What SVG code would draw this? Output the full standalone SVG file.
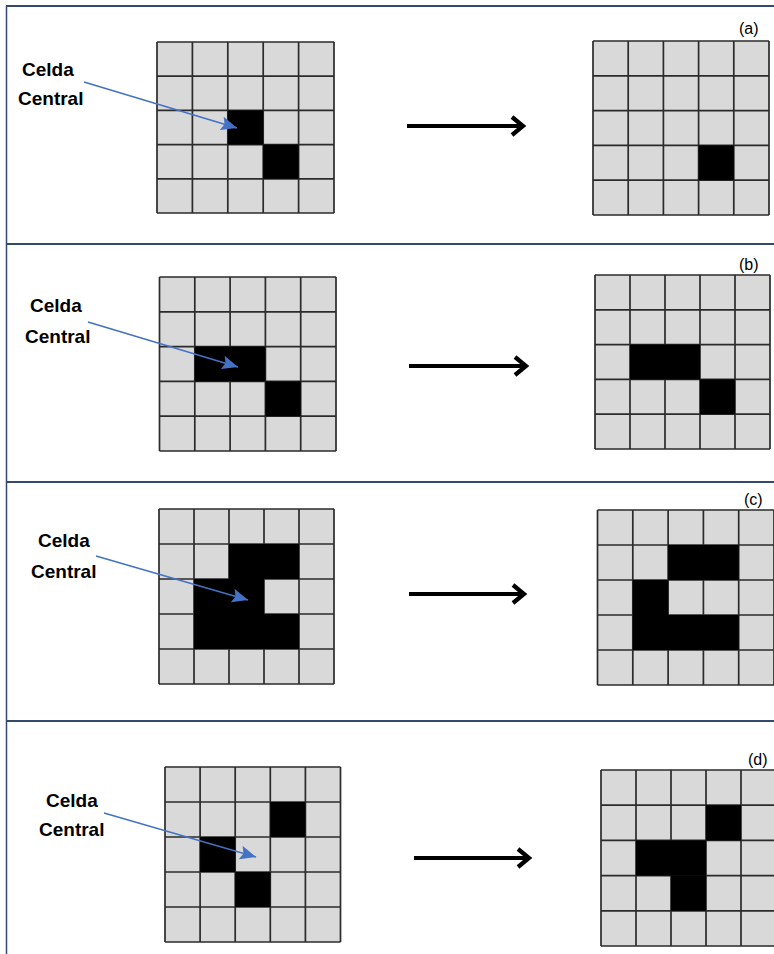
<svg xmlns="http://www.w3.org/2000/svg" width="774" height="954" viewBox="0 0 774 954">
<style>
.bg{fill:#d9d9d9}
.blk{fill:#000}
.gl{fill:none;stroke:#2b2b2b;stroke-width:1.7}
.lbl{font-family:"Liberation Sans",Arial,sans-serif;font-weight:bold;font-size:19px;fill:#000}
.tag{font-family:"Liberation Sans",Arial,sans-serif;font-size:16px;fill:#000}
.sep{stroke:#34496b;stroke-width:2.2;fill:none}
.blue{stroke:#4472c4;stroke-width:1.6;fill:none;marker-end:url(#bh)}
.arr{stroke:#000;stroke-width:4.2;fill:none}
.arrh{stroke:#000;stroke-width:4.2;fill:none;stroke-linejoin:miter;stroke-linecap:butt}
</style>
<defs>
<marker id="bh" markerUnits="userSpaceOnUse" markerWidth="18" markerHeight="14" refX="16" refY="7" orient="auto">
<path d="M0 0 L16 7 L0 14 L3 7 Z" fill="#4472c4"/>
</marker>
</defs>
<rect width="774" height="954" fill="#fff"/>
<g id="frame">
<path class="sep" d="M6 6 H774 M6 244 H774 M6 482 H774 M6 721 H774"/>
<path d="M6.5 6 V954" stroke="#34496b" stroke-width="1.5" fill="none"/>
</g>

<g id="panel-a">
<g id="grid-a-in">
<rect class="bg" x="157" y="42" width="177" height="171"/>
<path class="gl" d="M157 42V213M192.4 42V213M227.8 42V213M263.2 42V213M298.6 42V213M334 42V213M157 42H334M157 76.2H334M157 110.4H334M157 144.6H334M157 178.8H334M157 213H334"/>
<rect class="blk" x="227.8" y="110.4" width="35.4" height="34.2"/>
<rect class="blk" x="263.2" y="144.6" width="35.4" height="34.2"/>
</g>
<g id="grid-a-out">
<rect class="bg" x="593" y="41" width="176" height="174"/>
<path class="gl" d="M593 41V215M628.2 41V215M663.4 41V215M698.6 41V215M733.8 41V215M769 41V215M593 41H769M593 75.8H769M593 110.6H769M593 145.4H769M593 180.2H769M593 215H769"/>
<rect class="blk" x="698.6" y="145.4" width="35.2" height="34.8"/>
</g>
<g id="label-a"><text class="lbl" x="22" y="76">Celda</text><text class="lbl" x="18" y="105">Central</text></g>
<text class="tag" x="739" y="34">(a)</text>
</g>

<g id="panel-b">
<g id="grid-b-in">
<rect class="bg" x="159.5" y="277" width="176.5" height="174"/>
<path class="gl" d="M159.5 277V451M194.8 277V451M230.1 277V451M265.4 277V451M300.7 277V451M336 277V451M159.5 277H336M159.5 311.8H336M159.5 346.6H336M159.5 381.4H336M159.5 416.2H336M159.5 451H336"/>
<rect class="blk" x="194.8" y="346.6" width="70.6" height="34.8"/>
<rect class="blk" x="265.4" y="381.4" width="35.3" height="34.8"/>
</g>
<g id="grid-b-out">
<rect class="bg" x="595" y="275" width="175" height="174"/>
<path class="gl" d="M595 275V449M630 275V449M665 275V449M700 275V449M735 275V449M770 275V449M595 275H770M595 309.8H770M595 344.6H770M595 379.4H770M595 414.2H770M595 449H770"/>
<rect class="blk" x="630" y="344.6" width="70" height="34.8"/>
<rect class="blk" x="700" y="379.4" width="35" height="34.8"/>
</g>
<g id="label-b"><text class="lbl" x="30" y="312">Celda</text><text class="lbl" x="25" y="343">Central</text></g>
<text class="tag" x="739" y="270">(b)</text>
</g>

<g id="panel-c">
<g id="grid-c-in">
<rect class="bg" x="159" y="509" width="175" height="175"/>
<path class="gl" d="M159 509V684M194 509V684M229 509V684M264 509V684M299 509V684M334 509V684M159 509H334M159 544H334M159 579H334M159 614H334M159 649H334M159 684H334"/>
<rect class="blk" x="229" y="544" width="70" height="35"/>
<rect class="blk" x="194" y="579" width="70" height="35"/>
<rect class="blk" x="194" y="614" width="105" height="35"/>
</g>
<g id="grid-c-out">
<rect class="bg" x="597.5" y="510" width="176.5" height="175"/>
<path class="gl" d="M597.5 510V685M632.8 510V685M668.1 510V685M703.4 510V685M738.7 510V685M774 510V685M597.5 510H774M597.5 545H774M597.5 580H774M597.5 615H774M597.5 650H774M597.5 685H774"/>
<rect class="blk" x="668.1" y="545" width="70.6" height="35"/>
<rect class="blk" x="632.8" y="580" width="35.3" height="35"/>
<rect class="blk" x="632.8" y="615" width="105.9" height="35"/>
</g>
<g id="label-c"><text class="lbl" x="38" y="547">Celda</text><text class="lbl" x="31" y="578">Central</text></g>
<text class="tag" x="744" y="505">(c)</text>
</g>

<g id="panel-d">
<g id="grid-d-in">
<rect class="bg" x="165" y="767" width="175.5" height="175"/>
<path class="gl" d="M165 767V942M200.1 767V942M235.2 767V942M270.3 767V942M305.4 767V942M340.5 767V942M165 767H340.5M165 802H340.5M165 837H340.5M165 872H340.5M165 907H340.5M165 942H340.5"/>
<rect class="blk" x="270.3" y="802" width="35.1" height="35"/>
<rect class="blk" x="200.1" y="837" width="35.1" height="35"/>
<rect class="blk" x="235.2" y="872" width="35.1" height="35"/>
</g>
<g id="grid-d-out">
<rect class="bg" x="601" y="770" width="175" height="176"/>
<path class="gl" d="M601 770V946M636 770V946M671 770V946M706 770V946M741 770V946M776 770V946M601 770H776M601 805.2H776M601 840.4H776M601 875.6H776M601 910.8H776M601 946H776"/>
<rect class="blk" x="706" y="805.2" width="35" height="35.2"/>
<rect class="blk" x="636" y="840.4" width="70" height="35.2"/>
<rect class="blk" x="671" y="875.6" width="35" height="35.2"/>
</g>
<g id="label-d"><text class="lbl" x="46" y="807">Celda</text><text class="lbl" x="39" y="836">Central</text></g>
<text class="tag" x="748" y="765">(d)</text>
</g>

<g id="connectors">
<line class="blue" x1="84" y1="82" x2="237" y2="128"/>
<line class="blue" x1="88" y1="322" x2="238" y2="367"/>
<line class="blue" x1="96" y1="556" x2="248" y2="600"/>
<line class="blue" x1="104" y1="813" x2="256" y2="857"/>
<line class="arr" x1="407" y1="126" x2="521" y2="126"/>
<polyline class="arrh" points="512,117 523,126 512,135"/>
<line class="arr" x1="409" y1="366" x2="524" y2="366"/>
<polyline class="arrh" points="515,357 526,366 515,375"/>
<line class="arr" x1="409" y1="594" x2="522" y2="594"/>
<polyline class="arrh" points="513,585 524,594 513,603"/>
<line class="arr" x1="414" y1="858" x2="527" y2="858"/>
<polyline class="arrh" points="518,849 529,858 518,867"/>
</g>
</svg>
